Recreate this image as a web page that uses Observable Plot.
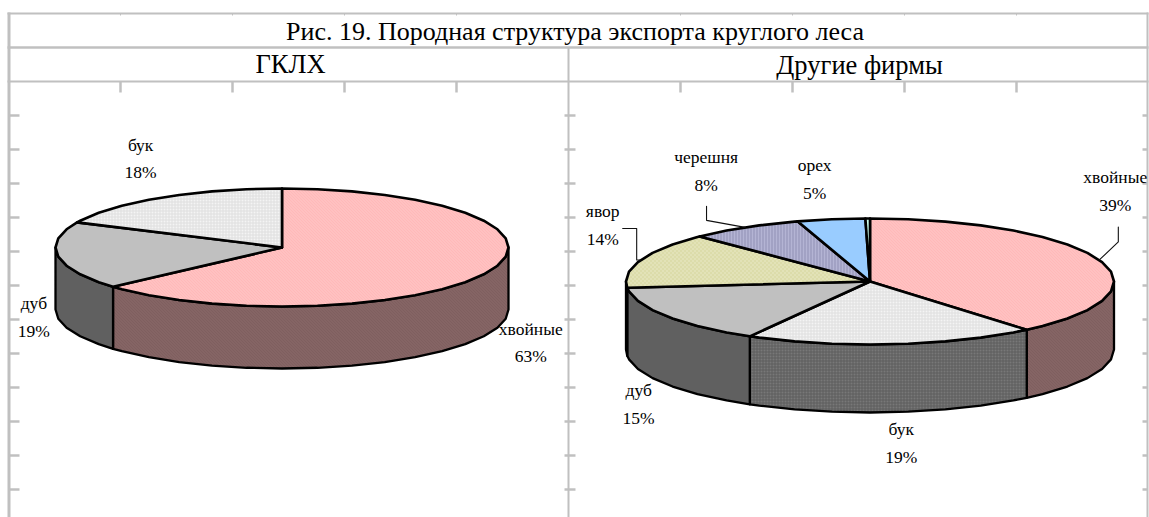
<!DOCTYPE html>
<html><head><meta charset="utf-8">
<script src="https://cdn.jsdelivr.net/npm/d3@7"></script>
<script src="https://cdn.jsdelivr.net/npm/@observablehq/plot@0.6"></script>
<style>
html,body{margin:0;padding:0;background:#fff;overflow:hidden}
svg{display:block}
g[aria-label="pie-labels"]{letter-spacing:1.7px}
</style></head><body><div id="chart"></div>
<script>
// ---- data ----
const chartTitle = "Рис. 19. Породная структура экспорта круглого леса";
const panelTitles = ["ГКЛХ", "Другие фирмы"];
const namesA = ["хвойные", "дуб", "бук"];
const sharesA = [63.4, 18.6, 18];
const namesB = ["хвойные", "бук", "дуб", "явор", "черешня", "орех", "прочие"];
const sharesB = [38.9, 19.3, 15.2, 14.3, 7.5, 4.5, 0.3];

// ---- layout & style (separate from the data) ----
const W = 1149, H = 517;
const pieA = {cx: 281.5, cy: 247, rx: 226.5, ry: 59, depth: 62};
const pieB = {cx: 869.5, cy: 281, rx: 244, ry: 63, depth: 68};
const topFill = {"хвойные":"url(#pPink)","дуб":"#c0c0c0","бук":"url(#pGrid)","явор":"url(#pOlive)","черешня":"url(#pLilac)","орех":"#99ccff","прочие":"#ccffee"};
const sideFill = {"хвойные":"url(#pBrown)","дуб":"#606060","бук":"url(#pGridDark)","явор":"#6e6e55"};
const labelOffsetA = {"хвойные":[42,68],"дуб":[-24,58],"бук":[-20,-42]};
const labelOffsetB = {"хвойные":[16,-71.5],"бук":[9,95.5],"дуб":[-27,85.5],"явор":[-38,-38],"черешня":[-39,-59.5],"орех":[-16.5,-43.5]};
const leaderB = {"хвойные":[[19,-18],[19,-33]],"черешня":[[-38.6,-7],[-38.6,-21]],"явор":[[-4,0],[-4,-31.5],[-18,-31.5]]};
const gridXs = [120,232,344,456,680,792,904,1016];
const gridYs = [115,149,183,217,251,285,319,353,387,421,455,489];
const frameColor = "#c0c0c0";

// ---- geometry from the shares ----
const STEP = 9;
const rim = (p, a, dz = 0) => {
  const t = a * Math.PI / 180;
  return {x: p.cx + p.rx * Math.sin(t), y: p.cy - p.ry * Math.cos(t) + dz};
};
function angles(a0, a1) {
  const out = [a0];
  for (let a = Math.ceil(a0 / STEP + 1e-6) * STEP; a < a1 - 1e-6; a += STEP) out.push(a);
  out.push(a1);
  return out;
}
function slices(names, shares) {
  const total = d3.sum(shares);
  let c = 0;
  return names.map((name, i) => {
    const a0 = c / total * 360; c += shares[i];
    return {name, share: shares[i], a0, a1: c / total * 360};
  });
}
function sliceMarks(p, sl) {
  const marks = [];
  const line = (pts, fill, sw) => Plot.line(pts, {x: "x", y: "y", curve: "linear-closed", fill, stroke: "#000", strokeWidth: sw, strokeLinejoin: "round"});
  for (const s of sl) {
    const lo = Math.max(s.a0, 90), hi = Math.min(s.a1, 270);
    if (hi > lo) {
      const as = angles(lo, hi);
      const pts = [...as.map(a => rim(p, a)), ...as.slice().reverse().map(a => rim(p, a, p.depth))];
      marks.push(line(pts, sideFill[s.name], 2.3));
    }
  }
  for (const s of sl) {
    const pts = [{x: p.cx, y: p.cy}, ...angles(s.a0, s.a1).map(a => rim(p, a))];
    marks.push(line(pts, topFill[s.name], 2.6));
  }
  return marks;
}
function labelRows(p, sl, offs) {
  return sl.filter(s => offs[s.name]).map(s => {
    const m = rim(p, (s.a0 + s.a1) / 2), o = offs[s.name];
    return {x: m.x + o[0], y: m.y + o[1], text: s.name + "\n" + Math.round(s.share) + "%"};
  });
}
function leaderMarks(p, sl, tbl) {
  return sl.filter(s => tbl[s.name]).map(s => {
    const m = rim(p, (s.a0 + s.a1) / 2);
    const pts = [m, ...tbl[s.name].map(o => ({x: m.x + o[0], y: m.y + o[1]}))];
    return Plot.line(pts, {x: "x", y: "y", stroke: "#111", strokeWidth: 1.1});
  });
}
const slA = slices(namesA, sharesA), slB = slices(namesB, sharesB);

// ---- frame ----
const seg = (x1, y1, x2, y2, w) => ({x1, y1, x2, y2, w});
const frame = [
  seg(8.5,12,8.5,H,3), seg(7,13,1148,13,2), seg(7,47,1148,47,2.5), seg(7,81,1148,81,2),
  seg(568,47,568,H,2), seg(1147,12,1147,H,2),
  ...gridXs.map(x => seg(x,81,x,92,2.5)), ...gridXs.map(x => seg(x,13,x,15,1)),
  ...gridYs.map(y => seg(8,y,19,y,2.5)), ...gridYs.map(y => seg(564,y,575,y,2.5)), ...gridYs.map(y => seg(1142,y,1147,y,2.5))
];

// ---- patterns ----
function patterns() {
  const defs = d3.create("svg:defs");
  const tile = (id, size, bg, cells, color) => {
    const pt = defs.append("pattern").attr("id", id).attr("patternUnits", "userSpaceOnUse").attr("width", size).attr("height", size);
    pt.append("rect").attr("width", size).attr("height", size).attr("fill", bg);
    for (const [x, y, w, h] of cells) pt.append("rect").attr("x", x).attr("y", y).attr("width", w).attr("height", h).attr("fill", color);
  };
  const diag = [[0,0,1,1],[1,1,1,1],[2,2,1,1]];
  tile("pPink", 3, "#ffc8c8", diag, "#ffaaaa");
  tile("pBrown", 3, "#8a6a6a", diag, "#745454");
  tile("pGrid", 3, "#f4f4f4", [[0,0,3,1],[0,0,1,3]], "#dedede");
  tile("pGridDark", 3, "#787878", [[0,0,3,1],[0,0,1,3]], "#5e5e5e");
  tile("pOlive", 4, "#dcdcaa", [[0,0,1,1],[2,2,1,1]], "#f4f4dc");
  tile("pLilac", 3, "#b4b4d4", [[0,0,1,3]], "#9090b4");
  return defs.node();
}

// ---- chart ----
const plot = Plot.plot({
  width: W, height: H, margin: 0,
  x: {domain: [0, W], range: [0, W], axis: null},
  y: {domain: [0, H], range: [0, H], axis: null},
  style: {background: "#fff"},
  marks: [
    patterns,
    Plot.link(frame, {x1: "x1", y1: "y1", x2: "x2", y2: "y2", stroke: frameColor, strokeWidth: "w"}),
    ...sliceMarks(pieA, slA),
    ...sliceMarks(pieB, slB),
    ...leaderMarks(pieB, slB, leaderB),
    Plot.text([{t: chartTitle}], {x: () => 574.5, y: () => 31, text: "t", fontFamily: "Liberation Serif", fontSize: 26, fill: "#000"}),
    Plot.text([{t: panelTitles[0], x: 290, y: 64}, {t: panelTitles[1], x: 859, y: 65}], {x: "x", y: "y", text: "t", fontFamily: "Liberation Serif", fontSize: 26.5, fill: "#000"}),
    Plot.text([...labelRows(pieA, slA, labelOffsetA), ...labelRows(pieB, slB, labelOffsetB)], {x: "x", y: "y", text: "text", ariaLabel: "pie-labels", lineHeight: 1.59, fontFamily: "Liberation Serif", fontSize: 17.5, fill: "#000"})
  ]
});
document.getElementById("chart").append(plot);
</script></body></html>
